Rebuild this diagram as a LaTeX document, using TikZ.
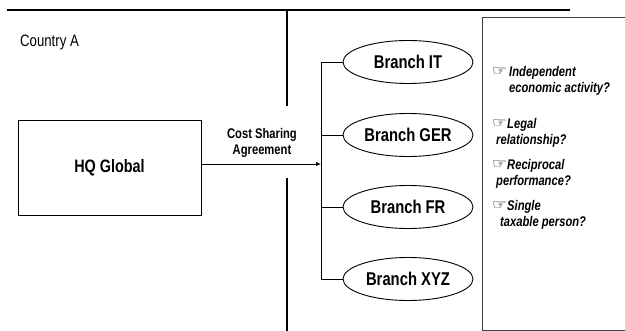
\documentclass[tikz,border=0pt]{standalone}
\usepackage{fontspec}
\setmainfont{Liberation Sans}[FakeStretch=0.8]
\newfontfamily\symfont{DejaVu Sans}[FakeStretch=1.2]
\usetikzlibrary{arrows.meta,shapes.geometric}
\tikzset{
  heavy/.style={line width=2.2pt, line cap=butt},
  thin/.style={line width=0.9pt},
  branch/.style={ellipse, draw, thin, minimum width=130pt, minimum height=43pt,
    inner sep=0pt, font=\fontsize{18.5}{21}\selectfont\bfseries},
  qtext/.style={anchor=base west, inner sep=0pt,
    font=\fontsize{14}{16}\selectfont\bfseries\itshape},
  hand/.style={anchor=base west, inner sep=0pt, font=\symfont\fontsize{14}{16}\selectfont}
}
\begin{document}
\begin{tikzpicture}[x=1pt,y=-1pt]
\useasboundingbox (0,0) rectangle (625,331);

% border between the countries
\draw[heavy] (7,10) -- (570,10);
\draw[heavy] (287,10) -- (287,106);
\draw[heavy] (287,178) -- (287,331);

\node[anchor=west, inner sep=0pt, font=\fontsize{16.5}{19}\selectfont] (country) at (20,42) {Country A};

% headquarters
\node[draw, thin, minimum width=183pt, minimum height=95pt, inner sep=0pt,
  font=\fontsize{18}{21}\selectfont\bfseries] (hq) at (109.5,167.5) {HQ Global};

% branches
\node[branch] (it)  at (408,62)  {Branch IT};
\node[branch] (ger) at (408,135) {Branch GER};
\node[branch] (fr)  at (408,207) {Branch FR};
\node[branch] (xyz) at (408,279) {Branch XYZ};

\coordinate (split) at (321,164);
\coordinate (top) at (321,62);
\coordinate (bot) at (321,279);

\draw[thin, -{Latex[length=5pt,width=4.5pt]}] (hq.east |- split) -- (split);
\node[align=center, inner sep=0pt, font=\fontsize{14}{15.5}\selectfont\bfseries]
  (csa) at (262,143) {Cost Sharing\\Agreement};

\draw[thin] (top) -- (bot);
\draw[thin] (top) -- (it.west);
\draw[thin] (321,135) -- (ger.west);
\draw[thin] (321,207) -- (fr.west);
\draw[thin] (bot) -- (xyz.west);

% questions box
\draw[thin, draw=black!75] (482,17) rectangle (632,330);

\node[hand] (h1) at (492,76) {☞};
\node[qtext] (q1a) at (509,77) {Independent};
\node[qtext] (q1b) at (509,93) {economic activity?};

\node[hand] (h2) at (492,128) {☞};
\node[qtext] (q2a) at (507,129) {Legal};
\node[qtext] (q2b) at (496,145) {relationship?};

\node[hand] (h3) at (492,169) {☞};
\node[qtext] (q3a) at (507,170) {Reciprocal};
\node[qtext] (q3b) at (496,186) {performance?};

\node[hand] (h4) at (492,210) {☞};
\node[qtext] (q4a) at (507,211) {Single};
\node[qtext] (q4b) at (500,227) {taxable person?};
\end{tikzpicture}
\end{document}
